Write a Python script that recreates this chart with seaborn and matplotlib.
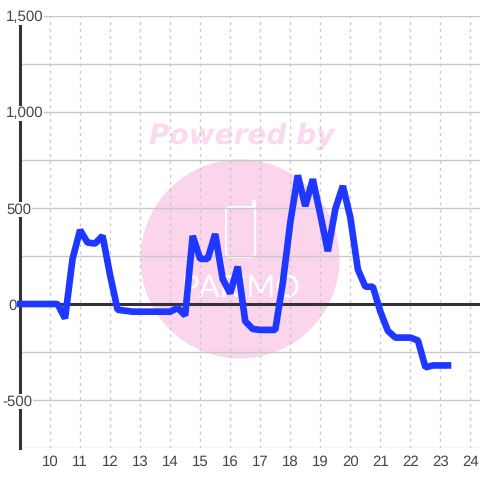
import matplotlib
matplotlib.use("Agg")
import matplotlib.pyplot as plt
from matplotlib.patches import Circle, FancyBboxPatch, Rectangle
import pandas as pd
import seaborn as sns

hours = [9.0, 9.25, 9.5, 9.75, 10.0, 10.25, 10.5, 10.75, 11.0, 11.25, 11.5, 11.75,
         12.0, 12.25, 12.5, 12.75, 13.0, 13.25, 13.5, 13.75, 14.0, 14.25, 14.5, 14.75,
         15.0, 15.25, 15.5, 15.75, 16.0, 16.25, 16.5, 16.75, 17.0, 17.25, 17.5, 17.75,
         18.0, 18.25, 18.5, 18.75, 19.0, 19.25, 19.5, 19.75, 20.0, 20.25, 20.5, 20.75,
         21.0, 21.25, 21.5, 21.75, 22.0, 22.25, 22.5, 22.75, 23.0, 23.25]
values = [0, 0, 0, 0, 0, 0, -75, 235, 385, 320, 315, 355,
          150, -30, -35, -40, -40, -40, -40, -40, -40, -20, -60, 355,
          235, 235, 365, 130, 55, 195, -90, -130, -135, -135, -135, 110,
          425, 670, 510, 650, 465, 275, 495, 615, 450, 180, 90, 90,
          -40, -140, -175, -175, -175, -190, -330, -320, -320, -320]
x_ticks = list(range(10, 25))
y_grid = [-750, -500, -250, 0, 250, 500, 750, 1000, 1250, 1500]
y_labels = {1500: "1,500", 1000: "1,000", 500: "500", 0: "0", -500: "-500"}
y_label_left = {1500: 6, 1000: 6, 500: 6, 0: 8, -500: 2}

BG = "#fefffe"
PINK = "#fbd5ec"
GRID = "#c8c8c8"
DARK = "#333333"
TEXT = "#444444"
W = 480.0

sns.set_theme(style="whitegrid")
plt.rcParams["font.family"] = ["Liberation Sans", "DejaVu Sans"]
plt.rcParams["text.hinting"] = "no_hinting"
plt.rcParams["text.hinting_factor"] = 1

fig = plt.figure(figsize=(4.8, 4.8), dpi=100, facecolor=BG)
ax = fig.add_axes([20 / W, 32 / W, 460 / W, 432 / W])
ax.patch.set_visible(False)

# watermark sits behind the axes
fig.add_artist(Circle((240 / W, 1 - 259 / W), 99.5 / W, transform=fig.transFigure,
                      fc=PINK, ec="none", zorder=-3))
fig.add_artist(FancyBboxPatch((226 / W, 1 - 257 / W), 29 / W, 50 / W,
                              boxstyle=f"round,pad=0,rounding_size={4 / W}",
                              transform=fig.transFigure, fc="none", ec="white",
                              lw=1.5, zorder=-2))
fig.add_artist(Rectangle((252 / W, 1 - 208 / W), 4 / W, 8 / W, transform=fig.transFigure,
                         fc="white", ec="none", zorder=-2))
fig.text(242 / W, 1 - 144 / W, "Powered by", family="DejaVu Sans", weight="bold",
         style="italic", fontsize=20.3, color="#fbd9ee", ha="center", va="baseline", zorder=-2)
fig.text(240 / W, 1 - 297 / W, "PARiMO", family="Lato", weight="normal",
         fontsize=22, color="white", ha="center", va="baseline", zorder=-2)

df = pd.DataFrame({"hour": hours, "value": values})
ax.axhline(0, color=DARK, lw=2.2, zorder=2)
sns.lineplot(data=df, x="hour", y="value", ax=ax, color="#1f38ff", linewidth=4.8,
             errorbar=None, zorder=3, clip_on=False,
             solid_capstyle="projecting", solid_joinstyle="bevel")

ax.set_xlim(9, 10 + 429.5 / 30)
ax.set_ylim(-750, 1500)
ax.set_xticks(x_ticks)
ax.set_yticks(y_grid)
ax.set_yticklabels([])
ax.set_xlabel("")
ax.set_ylabel("")
ax.grid(axis="y", color=GRID, lw=1, ls="-")
ax.grid(axis="x", color=GRID, lw=1, ls=(0, (2, 3)))
ax.set_axisbelow(True)
ax.tick_params(axis="both", length=0)
ax.tick_params(axis="x", labelsize=11, labelcolor=TEXT, pad=5)

for side in ["top", "right", "bottom"]:
    ax.spines[side].set_visible(False)
ax.spines["left"].set_color(DARK)
ax.spines["left"].set_linewidth(2.2)

for val, label in y_labels.items():
    ax.annotate(label, xy=(0, val), xycoords=("axes fraction", "data"),
                xytext=(y_label_left[val] - 20, -5.5), textcoords="offset pixels",
                ha="left", va="baseline", fontsize=11, color=TEXT, zorder=10,
                annotation_clip=False,
                bbox=dict(boxstyle="square,pad=0.05", fc=BG, ec="none"))

fig.savefig("out.png", dpi=100, facecolor=BG)
